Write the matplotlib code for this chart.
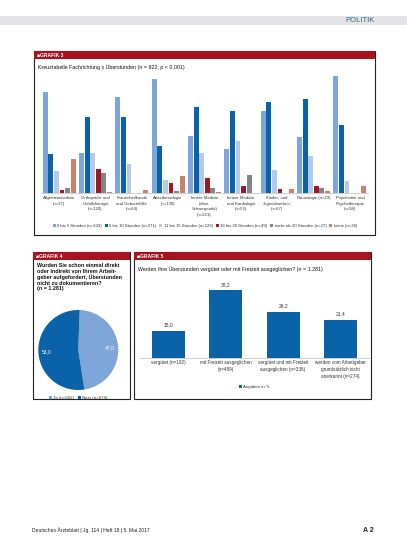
import matplotlib
matplotlib.use("Agg")
import matplotlib.pyplot as plt
from matplotlib.patches import Rectangle
import numpy as np

plt.rcParams['font.family'] = ['Liberation Sans', 'DejaVu Sans']

# ---- Daten Grafik 3: Fachrichtung x Überstunden (Anteile in %) ----
fach = ["Allgemeinmedizin\n(n=27)", "Orthopädie und\nUnfallchirurgie\n(n=120)",
        "Frauenheilkunde\nund Geburtshilfe\n(n=64)", "Anästhesiologie\n(n=130)",
        "Innere Medizin\n(ohne\nSchwerpunkt)\n(n=221)", "Innere Medizin\nund Kardiologie\n(n=53)",
        "Kinder- und\nJugendmedizin\n(n=67)", "Neurologie (n=29)",
        "Psychiatrie und\nPsychotherapie\n(n=58)"]
serien = ["0 bis 5 Stunden (n=343)", "6 bis 10 Stunden (n=271)", "11 bis 15 Stunden (n=126)",
          "16 bis 20 Stunden (n=49)", "mehr als 20 Stunden (n=27)", "keine (n=36)"]
bis5 = [49.6, 19.8, 47.4, 56.2, 28.2, 21.8, 40.5, 27.7, 57.4]
bis10 = [19.2, 37.5, 37.4, 23.3, 42.1, 40.3, 44.6, 46.4, 33.6]
bis15 = [10.6, 19.8, 14.4, 6.2, 19.8, 25.7, 11.5, 18.4, 5.7]
bis20 = [1.3, 12.0, 0.0, 5.1, 7.2, 3.6, 2.1, 3.6, 0.0]
mehr20 = [2.6, 10.0, 0.0, 1.1, 2.6, 9.0, 0.0, 2.6, 0.0]
keine = [16.7, 0.7, 1.6, 8.2, 0.3, 0.0, 2.1, 1.1, 3.6]
farben3 = ['#7ea6d8', '#0a63a8', '#b7c9e6', '#9c1a26', '#858585', '#cf7f6e']

# ---- Daten Grafik 4: Aufforderung, Überstunden nicht zu dokumentieren ----
pie_labels = ["Ja (n=602)", "Nein (n=679)"]
pie_werte = [47.0, 53.0]
pie_farben = ['#7ea6d8', '#0a63a8']

# ---- Daten Grafik 5: Ausgleich der Überstunden ----
ausgleich = ["vergütet (n=192)", "mit Freizeit ausgeglichen\n(n=489)",
             "vergütet und mit Freizeit\nausgeglichen (n=336)",
             "werden vom Arbeitgeber\ngrundsätzlich nicht\nanerkannt (n=274)"]
ausgleich_werte = [15.0, 38.2, 26.2, 21.4]

W, H = 407, 551
fig = plt.figure(figsize=(W / 100, H / 100), dpi=100)
rot = '#a6121e'
txtfarbe = '#333333'


def box(x0, y0, x1, y1, **kw):
    fig.patches.append(Rectangle((x0 / W, 1 - y1 / H), (x1 - x0) / W, (y1 - y0) / H,
                                 transform=fig.transFigure, **kw))


def txt(x, y, s, **kw):
    fig.text(x / W, 1 - y / H, s, **kw)


def achse(x0, y0, x1, y1):
    return fig.add_axes([x0 / W, 1 - y1 / H, (x1 - x0) / W, (y1 - y0) / H])


# Kopfleiste
box(0, 16, W, 25, facecolor='#e4e4e6', edgecolor='none')
txt(375, 20.5, "POLITIK", ha='right', va='center', fontsize=5.5, color='#2a6a8f')

# Panels
for x0, y0, x1, y1, titel in [(34, 51, 375, 235, "GRAFIK 3"), (33, 252, 130, 399, "GRAFIK 4"),
                              (134, 252, 371, 399, "GRAFIK 5")]:
    box(x0, y0, x1, y1, facecolor='none', edgecolor='#222222', linewidth=0.8)
    box(x0, y0, x1, y0 + 8, facecolor=rot, edgecolor='none')
    txt(x0 + 3, y0 + 4.2, "\u25a0" + titel, ha='left', va='center', fontsize=3.6,
        color='white', fontweight='bold')

# ---- Grafik 3 ----
txt(38, 67, "Kreuztabelle Fachrichtung x Überstunden (n = 922; p < 0,001)",
    ha='left', va='center', fontsize=3.8, color='#111111')
ax3 = achse(41, 71, 368, 193)
x = np.arange(len(fach))
breite = 0.155
for i, (werte, name) in enumerate(zip([bis5, bis10, bis15, bis20, mehr20, keine], serien)):
    ax3.bar(x + (i - 2.5) * breite, werte, width=0.135, color=farben3[i], label=name)
ax3.set_xlim(-0.5, len(fach) - 0.5)
ax3.set_ylim(0, 60)
ax3.set_yticks([])
ax3.set_xticks(x)
ax3.set_xticklabels(fach, fontsize=3.1, color=txtfarbe, linespacing=1.6)
ax3.tick_params(axis='x', length=0, pad=2)
for s in ['top', 'right', 'left']:
    ax3.spines[s].set_visible(False)
ax3.spines['bottom'].set_color('#bbbbbb')
ax3.spines['bottom'].set_linewidth(0.5)
ax3.legend(loc='center', bbox_to_anchor=((205 - 41) / 327, (193 - 226) / 122), ncol=6,
           fontsize=3.1, frameon=False, handlelength=0.7, handleheight=0.7,
           handletextpad=0.3, columnspacing=0.7, labelcolor=txtfarbe)

# ---- Grafik 4 ----
txt(37, 263, "Wurden Sie schon einmal direkt\noder indirekt von Ihrem Arbeit-\n"
    "geber aufgefordert, Überstunden\nnicht zu dokumentieren?\n(n = 1.281)",
    ha='left', va='top', fontsize=3.9, fontweight='bold', color='#111111', linespacing=1.15)
ax4 = achse(38.3, 310, 118.3, 390)
keile, _ = ax4.pie(pie_werte, colors=pie_farben, startangle=88, counterclock=False)
ax4.set_xlim(-1, 1)
ax4.set_ylim(-1, 1)
for k, w in zip(keile, pie_werte):
    winkel = np.deg2rad((k.theta1 + k.theta2) / 2)
    ax4.text(0.78 * np.cos(winkel), 0.78 * np.sin(winkel), f"{w:.1f}".replace('.', ','),
             ha='center', va='center', fontsize=3.6, color='white')
ax4.legend(keile, pie_labels, loc='center', bbox_to_anchor=(0.5, -0.1), ncol=2,
           fontsize=3.2, frameon=False, handlelength=0.7, handleheight=0.7,
           handletextpad=0.3, columnspacing=0.8, labelcolor=txtfarbe)

# ---- Grafik 5 ----
txt(138, 269, "Werden Ihre Überstunden vergütet oder mit Freizeit ausgeglichen? (n = 1.281)",
    ha='left', va='center', fontsize=3.8, color='#111111')
ax5 = achse(140, 278.4, 369, 357.7)
x5 = np.arange(len(ausgleich))
balken = ax5.bar(x5, ausgleich_werte, width=0.58, color='#0a63a8', label="Angaben in %")
for b, w in zip(balken, ausgleich_werte):
    ax5.text(b.get_x() + b.get_width() / 2, w + 2, f"{w:.1f}".replace('.', ','),
             ha='center', va='bottom', fontsize=3.6, color=txtfarbe)
ax5.set_xlim(-0.5, len(ausgleich) - 0.5)
ax5.set_ylim(0, 45)
ax5.set_yticks([])
ax5.set_xticks(x5)
ax5.set_xticklabels(ausgleich, fontsize=3.3, color=txtfarbe, linespacing=1.5)
ax5.tick_params(axis='x', length=0, pad=2)
for s in ['top', 'right', 'left']:
    ax5.spines[s].set_visible(False)
ax5.spines['bottom'].set_color('#bbbbbb')
ax5.spines['bottom'].set_linewidth(0.5)
ax5.legend(loc='center', bbox_to_anchor=(0.5, (357.7 - 387) / 79.3), fontsize=3.2,
           frameon=False, handlelength=0.7, handleheight=0.7, handletextpad=0.3,
           labelcolor=txtfarbe)

# Fußzeile
txt(32, 530, "Deutsches Ärzteblatt | Jg. 114 | Heft 18 | 5. Mai 2017", ha='left', va='center',
    fontsize=3.6, color='#222222')
txt(374, 530, "A 2", ha='right', va='center', fontsize=5, color='#222222', fontweight='bold')

fig.savefig("out.png", dpi=100)
